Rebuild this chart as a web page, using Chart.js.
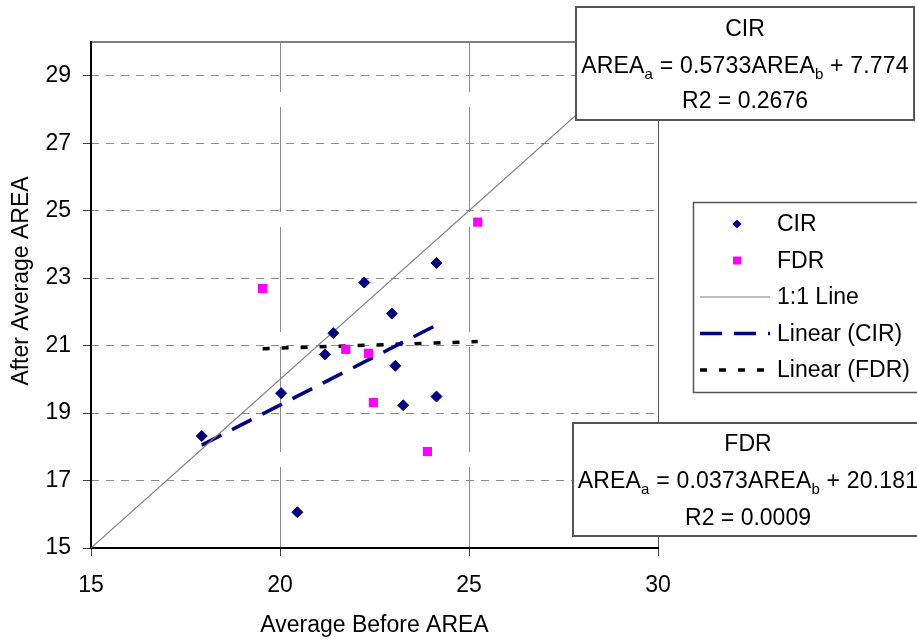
<!DOCTYPE html>
<html>
<head>
<meta charset="utf-8">
<title>Average Before vs After AREA</title>
<script src="https://cdn.jsdelivr.net/npm/chart.js@4/dist/chart.umd.min.js"></script>
<style>
    html, body { margin: 0; padding: 0; background: #fff; overflow: hidden; }
    #wrap { position: relative; width: 917px; height: 640px; overflow: hidden; }
    #chart { position: absolute; left: 0; top: 0; }
    .eq-box {
        position: absolute;
        box-sizing: border-box;
        background: #fff;
        border: 2px solid #555;
        font-family: 'Liberation Sans', Arial, sans-serif;
        font-size: 23px;
        color: #000;
    }
    .eq-line {
        position: absolute;
        left: -60px;
        right: -60px;
        height: 28px;
        line-height: 28px;
        text-align: center;
        white-space: nowrap;
    }
    .eq-line.wide { letter-spacing: 0.2px; }
    .eq-line sub { font-size: 15px; vertical-align: -6px; line-height: 0; }
</style>
</head>
<body>
<div id="wrap">
    <canvas id="chart" width="917" height="640"></canvas>

    <div class="eq-box" style="left:575px; top:6px; width:340px; height:115px;">
        <div class="eq-line" style="top:6px;">CIR</div>
        <div class="eq-line wide" style="top:43px;">AREA<sub>a</sub> = 0.5733AREA<sub>b</sub> + 7.774</div>
        <div class="eq-line" style="top:78px;">R2 = 0.2676</div>
    </div>

    <div class="eq-box" style="left:572px; top:422px; width:352px; height:115px;">
        <div class="eq-line" style="top:5px;">FDR</div>
        <div class="eq-line wide" style="top:42px;">AREA<sub>a</sub> = 0.0373AREA<sub>b</sub> + 20.181</div>
        <div class="eq-line" style="top:79px;">R2 = 0.0009</div>
    </div>
</div>

<script>
// ============================================================
// Data — values
// ============================================================

var cirX = [17.93, 20.03, 20.46, 21.19, 21.41, 22.23, 22.96, 23.05, 23.26, 24.14, 24.14];
var cirY = [18.32, 19.59, 16.06, 20.74, 21.37, 22.87, 21.95, 20.40, 19.23, 19.49, 23.45];

var fdrX = [19.54, 21.74, 22.34, 22.47, 23.90, 25.23];
var fdrY = [22.69, 20.89, 20.77, 19.31, 17.86, 24.66];

var oneToOneX = [15, 30];
var oneToOneY = [15, 30];

// trendline end points (Excel draws them over the data's x range)
var cirTrendX = [17.93, 24.14];
var cirTrendY = [18.05, 21.61];
var fdrTrendX = [19.54, 25.23];
var fdrTrendY = [20.91, 21.12];

var xTicks = [15, 20, 25, 30];
var yTicks = [15, 17, 19, 21, 23, 25, 27, 29];

var seriesNames = ['CIR', 'FDR', '1:1 Line', 'Linear (CIR)', 'Linear (FDR)'];
var xTitle = 'Average Before AREA';
var yTitle = 'After Average AREA';

var FONT = "'Liberation Sans', Arial, sans-serif";

function toPoints(xs, ys) {
    return xs.map(function(x, i) { return { x: x, y: ys[i] }; });
}

// ============================================================
// Markers (used by the custom legend)
// ============================================================

function drawMarker(ctx, style, x, y, r, color) {
    ctx.save();
    ctx.fillStyle = color;
    ctx.beginPath();
    if (style === 'rectRot') {
        ctx.moveTo(x, y - r);
        ctx.lineTo(x + r, y);
        ctx.lineTo(x, y + r);
        ctx.lineTo(x - r, y);
    } else {
        ctx.rect(x - r, y - r, 2 * r, 2 * r);
    }
    ctx.closePath();
    ctx.fill();
    ctx.restore();
}

// ============================================================
// Plot frame: black axes left/bottom, grey border top/right
// ============================================================

var framePlugin = {
    id: 'plotFrame',
    beforeDatasetsDraw: function(chart) {
        var a = chart.chartArea;
        var ctx = chart.ctx;
        ctx.save();
        ctx.strokeStyle = '#808080';
        ctx.lineWidth = 2;
        ctx.beginPath();
        ctx.moveTo(a.left, a.top);
        ctx.lineTo(a.right, a.top);
        ctx.stroke();
        ctx.strokeStyle = '#555';
        ctx.lineWidth = 1;
        ctx.beginPath();
        ctx.moveTo(a.right + 0.5, a.top);
        ctx.lineTo(a.right + 0.5, a.bottom);
        ctx.stroke();

        ctx.strokeStyle = '#000';
        ctx.lineWidth = 2;
        ctx.beginPath();
        ctx.moveTo(a.left, a.top - 1);
        ctx.lineTo(a.left, a.bottom);
        ctx.lineTo(a.right + 1, a.bottom);
        ctx.stroke();
        ctx.restore();
    },
    // y axis title sits a little above the plot's middle, as in Excel
    afterDraw: function(chart) {
        var a = chart.chartArea;
        var ctx = chart.ctx;
        ctx.save();
        ctx.translate(22, (a.top + a.bottom) / 2 - 14);
        ctx.rotate(-Math.PI / 2);
        ctx.font = '23px ' + FONT;
        ctx.fillStyle = '#000';
        ctx.textAlign = 'center';
        ctx.textBaseline = 'middle';
        ctx.fillText(yTitle, 0, 0);
        ctx.restore();
    }
};

// ============================================================
// Legend box on the right, drawn from the datasets
// ============================================================

var legendPlugin = {
    id: 'sideLegend',
    afterDraw: function(chart) {
        var ctx = chart.ctx;
        var left = 693, top = 202;
        ctx.save();
        ctx.fillStyle = '#fff';
        ctx.fillRect(left, top, 240, 190);
        ctx.strokeStyle = '#555';
        ctx.lineWidth = 1.5;
        ctx.strokeRect(left + 0.5, top + 0.5, 240, 190);

        ctx.font = '23px ' + FONT;
        ctx.fillStyle = '#000';
        ctx.textBaseline = 'middle';
        ctx.textAlign = 'left';

        chart.data.datasets.forEach(function(ds, i) {
            var y = 224 + i * 36.5;
            if (ds.showLine) {
                ctx.save();
                ctx.strokeStyle = ds.borderColor;
                ctx.lineWidth = ds.borderWidth;
                ctx.setLineDash(ds.borderDash || []);
                ctx.beginPath();
                ctx.moveTo(700, y);
                ctx.lineTo(770, y);
                ctx.stroke();
                ctx.restore();
            } else {
                var r = ds.pointStyle === 'rectRot' ? 4.5 : 4;
                drawMarker(ctx, ds.pointStyle, 737, y, r, ds.backgroundColor);
            }
            ctx.fillText(ds.label, 777, y + 1);
        });
        ctx.restore();
    }
};

// ============================================================
// Chart
// ============================================================

Chart.defaults.font.family = FONT;
Chart.defaults.font.size = 23;
Chart.defaults.color = '#000';

var ctx = document.getElementById('chart').getContext('2d');

new Chart(ctx, {
    type: 'scatter',
    data: {
        datasets: [
            {
                label: seriesNames[0],
                data: toPoints(cirX, cirY),
                pointStyle: 'rectRot',
                pointRadius: 5.5,
                backgroundColor: '#000080',
                borderColor: '#000080',
                borderWidth: 1
            },
            {
                label: seriesNames[1],
                data: toPoints(fdrX, fdrY),
                pointStyle: 'rect',
                pointRadius: 6.5,
                backgroundColor: '#ff00ff',
                borderColor: '#ff00ff',
                borderWidth: 0
            },
            {
                label: seriesNames[2],
                data: toPoints(oneToOneX, oneToOneY),
                showLine: true,
                borderColor: '#808080',
                borderWidth: 1.2,
                pointRadius: 0
            },
            {
                label: seriesNames[3],
                data: toPoints(cirTrendX, cirTrendY),
                showLine: true,
                borderColor: '#000080',
                borderWidth: 3.5,
                borderDash: [22, 12],
                pointRadius: 0
            },
            {
                label: seriesNames[4],
                data: toPoints(fdrTrendX, fdrTrendY),
                showLine: true,
                borderColor: '#000000',
                borderWidth: 3.5,
                borderDash: [7, 12],
                pointRadius: 0
            }
        ]
    },
    options: {
        responsive: false,
        animation: false,
        devicePixelRatio: 1,
        layout: { padding: { top: 42, right: 259, bottom: 0, left: 0 } },
        plugins: {
            legend: { display: false },
            tooltip: { enabled: false }
        },
        scales: {
            x: {
                type: 'linear',
                min: 15,
                max: 30,
                afterBuildTicks: function(s) {
                    s.ticks = xTicks.map(function(v) { return { value: v }; });
                },
                afterFit: function(s) { s.height = 92; },
                grid: {
                    color: function(c) {
                        var v = c.tick ? c.tick.value : null;
                        return (v === 20 || v === 25) ? '#8c8c8c' : 'rgba(0,0,0,0)';
                    },
                    tickColor: '#404040',
                    tickLength: 8
                },
                border: { display: false, dash: [105, 15], dashOffset: 55 },
                ticks: { padding: 16, font: { size: 23 } },
                title: {
                    display: true,
                    text: xTitle,
                    font: { size: 23 },
                    padding: { top: 0, bottom: 1 }
                }
            },
            y: {
                type: 'linear',
                min: 15,
                max: 30,
                afterBuildTicks: function(s) {
                    s.ticks = yTicks.map(function(v) { return { value: v }; });
                },
                afterFit: function(s) { s.width = 91; },
                grid: {
                    color: function(c) {
                        var v = c.tick ? c.tick.value : null;
                        return v === 15 ? 'rgba(0,0,0,0)' : '#8c8c8c';
                    },
                    tickColor: '#404040',
                    tickLength: 8
                },
                border: { display: false, dash: [8, 7] },
                ticks: { padding: 12, font: { size: 23 } }
            }
        }
    },
    plugins: [framePlugin, legendPlugin]
});
</script>
</body>
</html>
